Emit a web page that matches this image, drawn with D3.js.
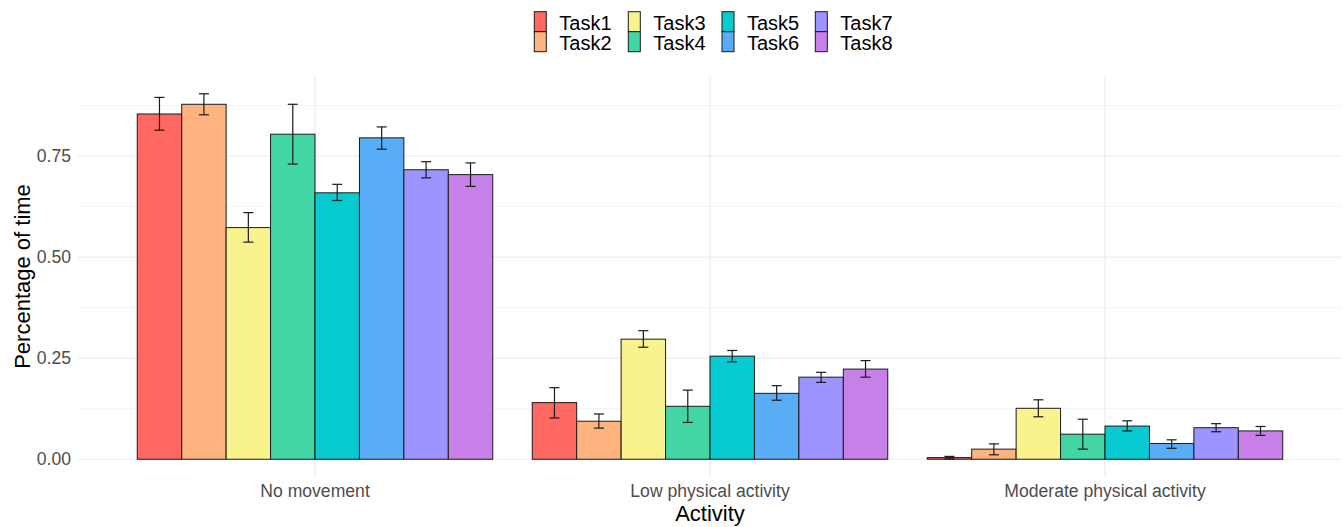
<!DOCTYPE html>
<html>
<head>
<meta charset="utf-8">
<script src="https://cdn.jsdelivr.net/npm/d3@7"></script>
<style>
  html, body { margin: 0; padding: 0; background: #ffffff; }
  svg { display: block; font-family: "Liberation Sans", Arial, sans-serif; }
</style>
</head>
<body>
<svg id="chart" width="1343" height="527"></svg>
<script>
// Activity categories and task series
const activities = ["No movement", "Low physical activity", "Moderate physical activity"];
const tasks = ["Task1", "Task2", "Task3", "Task4", "Task5", "Task6", "Task7", "Task8"];
const taskColors = ["#FF6961", "#FFB480", "#F8F38D", "#42D6A4", "#08CAD1", "#59ADF6", "#9D94FF", "#C780E8"];

// Mean share of time per task, one array per activity
const noMovement   = [0.854, 0.878, 0.573, 0.804, 0.659, 0.795, 0.716, 0.704];
const lowActivity  = [0.140, 0.094, 0.297, 0.131, 0.255, 0.163, 0.203, 0.223];
const modActivity  = [0.004, 0.025, 0.126, 0.062, 0.082, 0.039, 0.078, 0.070];

// Error bar bounds
const noMovementLo  = [0.814, 0.852, 0.537, 0.730, 0.640, 0.767, 0.696, 0.675];
const noMovementHi  = [0.895, 0.904, 0.610, 0.878, 0.680, 0.822, 0.736, 0.733];
const lowActivityLo = [0.102, 0.077, 0.277, 0.091, 0.241, 0.146, 0.190, 0.203];
const lowActivityHi = [0.177, 0.112, 0.318, 0.171, 0.269, 0.182, 0.215, 0.244];
const modActivityLo = [0.001, 0.011, 0.105, 0.025, 0.070, 0.027, 0.068, 0.059];
const modActivityHi = [0.007, 0.038, 0.147, 0.099, 0.095, 0.048, 0.088, 0.081];

const yTicks = [0, 0.25, 0.5, 0.75];
const yTickLabels = ["0.00", "0.25", "0.50", "0.75"];
const yMinor = [0.125, 0.375, 0.625, 0.875];

const means = [noMovement, lowActivity, modActivity];
const lows = [noMovementLo, lowActivityLo, modActivityLo];
const highs = [noMovementHi, lowActivityHi, modActivityHi];

const rows = [];
activities.forEach((a, i) => {
  tasks.forEach((t, j) => {
    rows.push({ activity: a, task: t, value: means[i][j], lo: lows[i][j], hi: highs[i][j], color: taskColors[j] });
  });
});

const svg = d3.select("#chart");
const panel = { left: 78, right: 1342, top: 75.5, bottom: 477.5 };

// Scales
const x = d3.scaleBand().domain(activities).range([panel.left, panel.right])
  .paddingInner(0.1).paddingOuter(0.15);
const xInner = d3.scaleBand().domain(tasks).range([0, x.bandwidth()]).padding(0);

const hiMax = d3.max(rows, d => d.hi);
const pad = 0.05 * hiMax;
const y = d3.scaleLinear().domain([-pad, hiMax + pad]).range([panel.bottom, panel.top]);

// Grid
const grid = svg.append("g");
grid.selectAll("line.minor").data(yMinor).join("line")
  .attr("x1", panel.left).attr("x2", panel.right)
  .attr("y1", d => y(d)).attr("y2", d => y(d))
  .attr("stroke", "#ebebeb").attr("stroke-width", 0.6);
grid.selectAll("line.major").data(yTicks).join("line")
  .attr("x1", panel.left).attr("x2", panel.right)
  .attr("y1", d => y(d)).attr("y2", d => y(d))
  .attr("stroke", "#ebebeb").attr("stroke-width", 1.1);
grid.selectAll("line.vmajor").data(activities).join("line")
  .attr("x1", d => x(d) + x.bandwidth() / 2).attr("x2", d => x(d) + x.bandwidth() / 2)
  .attr("y1", panel.top).attr("y2", panel.bottom)
  .attr("stroke", "#ebebeb").attr("stroke-width", 1.1);

// Bars
svg.append("g").selectAll("rect").data(rows).join("rect")
  .attr("x", d => x(d.activity) + xInner(d.task))
  .attr("width", xInner.bandwidth())
  .attr("y", d => y(d.value))
  .attr("height", d => y(0) - y(d.value))
  .attr("fill", d => d.color)
  .attr("stroke", "#1a1a1a").attr("stroke-width", 1);

// Error bars
const capW = 10;
const eb = svg.append("g").attr("stroke", "#1a1a1a").attr("stroke-width", 1.2);
rows.forEach(d => {
  const cx = x(d.activity) + xInner(d.task) + xInner.bandwidth() / 2;
  eb.append("line").attr("x1", cx).attr("x2", cx).attr("y1", y(d.lo)).attr("y2", y(d.hi));
  eb.append("line").attr("x1", cx - capW / 2).attr("x2", cx + capW / 2).attr("y1", y(d.lo)).attr("y2", y(d.lo));
  eb.append("line").attr("x1", cx - capW / 2).attr("x2", cx + capW / 2).attr("y1", y(d.hi)).attr("y2", y(d.hi));
});

// Y axis labels
const yAxis = svg.append("g").attr("transform", `translate(${panel.left},0)`)
  .call(d3.axisLeft(y).tickValues(yTicks).tickFormat((d, i) => yTickLabels[i]).tickSize(0).tickPadding(7));
yAxis.select(".domain").remove();
yAxis.selectAll("text").attr("fill", "#4d4d4d").style("font-size", "17.6px")
  .style("font-family", '"Liberation Sans", Arial, sans-serif');

// X axis labels
const xAxis = svg.append("g").attr("transform", `translate(0,${panel.bottom})`)
  .call(d3.axisBottom(x).tickSize(0).tickPadding(7));
xAxis.select(".domain").remove();
xAxis.selectAll("text").attr("fill", "#4d4d4d").style("font-size", "17.6px")
  .style("font-family", '"Liberation Sans", Arial, sans-serif');

// Axis titles
svg.append("text").attr("x", (panel.left + panel.right) / 2).attr("y", 521)
  .attr("text-anchor", "middle").attr("fill", "#000").style("font-size", "22px").text("Activity");
svg.append("text").attr("transform", `translate(29.5,${(panel.top + panel.bottom) / 2}) rotate(-90)`)
  .attr("text-anchor", "middle").attr("fill", "#000").style("font-size", "22px").text("Percentage of time");

// Legend: 4 columns x 2 rows, filled by column
const legend = svg.append("g");
const colX = [534.3, 628.3, 722, 815.3];
const rowY = [11.7, 31.7];
const keyW = 12, keyH = 20;
tasks.forEach((t, i) => {
  const c = Math.floor(i / 2), r = i % 2;
  legend.append("rect").attr("x", colX[c]).attr("y", rowY[r]).attr("width", keyW).attr("height", keyH)
    .attr("fill", taskColors[i]).attr("stroke", "#1a1a1a").attr("stroke-width", 1);
  legend.append("text").attr("x", colX[c] + 25).attr("y", rowY[r] + 17.8)
    .attr("fill", "#000").style("font-size", "20px").text(t);
});
</script>
</body>
</html>
